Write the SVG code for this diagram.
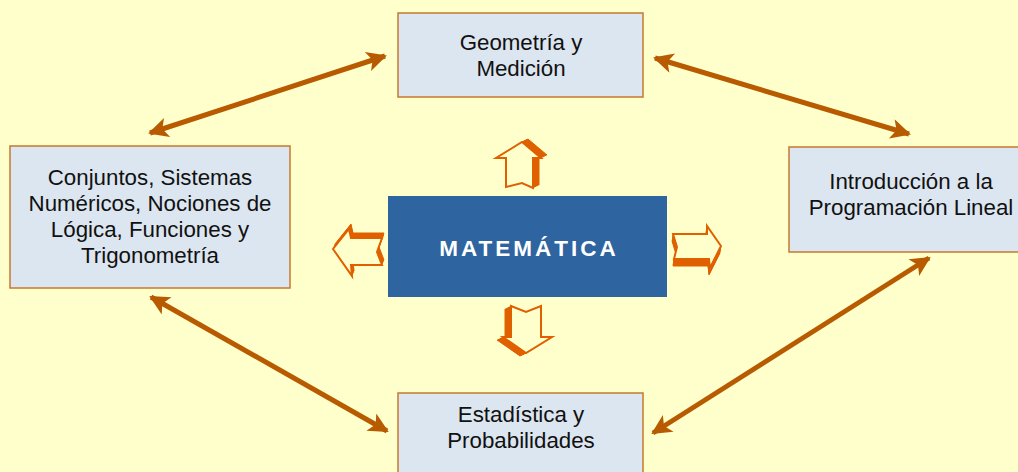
<svg xmlns="http://www.w3.org/2000/svg" width="1018" height="472" viewBox="0 0 1018 472">
<style>
.box{fill:#DCE6F0;stroke:#C8782F;stroke-width:1.5}
.t{font-family:"Liberation Sans",Arial,sans-serif;font-size:22.3px;fill:#111;text-anchor:middle}
.con{stroke:#B85A00;stroke-width:5;fill:none;marker-start:url(#ah);marker-end:url(#ah)}
.shade use{fill:#E06000;stroke:#E06000;stroke-width:1}
.front{fill:#FFFFCC;stroke:#E06000;stroke-width:2}
</style>
<defs>
<marker id="ah" viewBox="0 0 10 10" refX="9" refY="5" markerWidth="5.5" markerHeight="4" orient="auto-start-reverse" markerUnits="strokeWidth">
<path d="M0,0 L10,5 L0,10 L2.5,5 z" fill="#B85A00"/>
</marker>
<polygon id="pu" points="522,142 541,158 533,158 533,188 522,183 506,187 506,158 496,158"/>
<polygon id="pl" points="333,249 349,229 351,238 382,238 377,252 382,265 351,265 352,276"/>
<polygon id="pr" points="673,234 707,234 707,226 721,246 710,268 709,259 674,259 677,247"/>
<polygon id="pd" points="511,306 526,312 541,306 541,337 552,337 526,353 503,337 511,337"/>
</defs>
<rect width="1018" height="472" fill="#FFFFCC"/>
<g id="connectors">
<line class="con" x1="150" y1="133" x2="385" y2="56"/>
<line class="con" x1="655" y1="58" x2="909" y2="134"/>
<line class="con" x1="151" y1="297" x2="387" y2="431"/>
<line class="con" x1="929" y1="258" x2="653" y2="433"/>
</g>
<g id="geometria">
<rect class="box" x="398" y="13" width="245" height="84"/>
<text class="t" x="521" y="50">Geometría y</text>
<text class="t" x="521" y="76">Medición</text>
</g>
<g id="conjuntos">
<rect class="box" x="10" y="146" width="280" height="142"/>
<text class="t" x="150" y="185">Conjuntos, Sistemas</text>
<text class="t" x="150" y="211">Numéricos, Nociones de</text>
<text class="t" x="150" y="237">Lógica, Funciones y</text>
<text class="t" x="150" y="263">Trigonometría</text>
</g>
<g id="introduccion">
<rect class="box" x="789" y="147" width="240" height="105"/>
<text class="t" x="911" y="189">Introducción a la</text>
<text class="t" x="911" y="215">Programación Lineal</text>
</g>
<g id="estadistica">
<rect class="box" x="398" y="393" width="245" height="90"/>
<text class="t" x="521" y="422">Estadística y</text>
<text class="t" x="521" y="448">Probabilidades</text>
</g>
<g id="matematica">
<rect x="388" y="196" width="279" height="101" fill="#2E64A0"/>
<text x="529" y="256" font-family="'Liberation Sans',Arial,sans-serif" font-size="22.5" font-weight="bold" fill="#FFFFFF" text-anchor="middle" letter-spacing="3">MATEMÁTICA</text>
</g>
<g id="arrow-up">
<g class="shade">
<use href="#pu" transform="translate(1,-0.5)"/><use href="#pu" transform="translate(2,-1)"/><use href="#pu" transform="translate(3,-1.5)"/><use href="#pu" transform="translate(4,-2)"/><use href="#pu" transform="translate(5,-2.5)"/><use href="#pu" transform="translate(6,-3)"/>
</g>
<use href="#pu" class="front"/>
</g>
<g id="arrow-left">
<g class="shade">
<use href="#pl" transform="translate(0.4,-1)"/><use href="#pl" transform="translate(0.8,-2)"/><use href="#pl" transform="translate(1.2,-3)"/><use href="#pl" transform="translate(1.6,-4)"/><use href="#pl" transform="translate(2,-5)"/>
</g>
<use href="#pl" class="front"/>
</g>
<g id="arrow-right">
<g class="shade">
<use href="#pr" transform="translate(-0.15,1)"/><use href="#pr" transform="translate(-0.3,2)"/><use href="#pr" transform="translate(-0.45,3)"/><use href="#pr" transform="translate(-0.6,4)"/><use href="#pr" transform="translate(-0.75,5)"/><use href="#pr" transform="translate(-0.9,6)"/><use href="#pr" transform="translate(-1,7)"/>
</g>
<use href="#pr" class="front"/>
</g>
<g id="arrow-down">
<g class="shade">
<use href="#pd" transform="translate(-1,0.5)"/><use href="#pd" transform="translate(-2,1)"/><use href="#pd" transform="translate(-3,1.5)"/><use href="#pd" transform="translate(-4,2)"/><use href="#pd" transform="translate(-5,2.5)"/><use href="#pd" transform="translate(-6,3)"/>
</g>
<use href="#pd" class="front"/>
</g>
</svg>
